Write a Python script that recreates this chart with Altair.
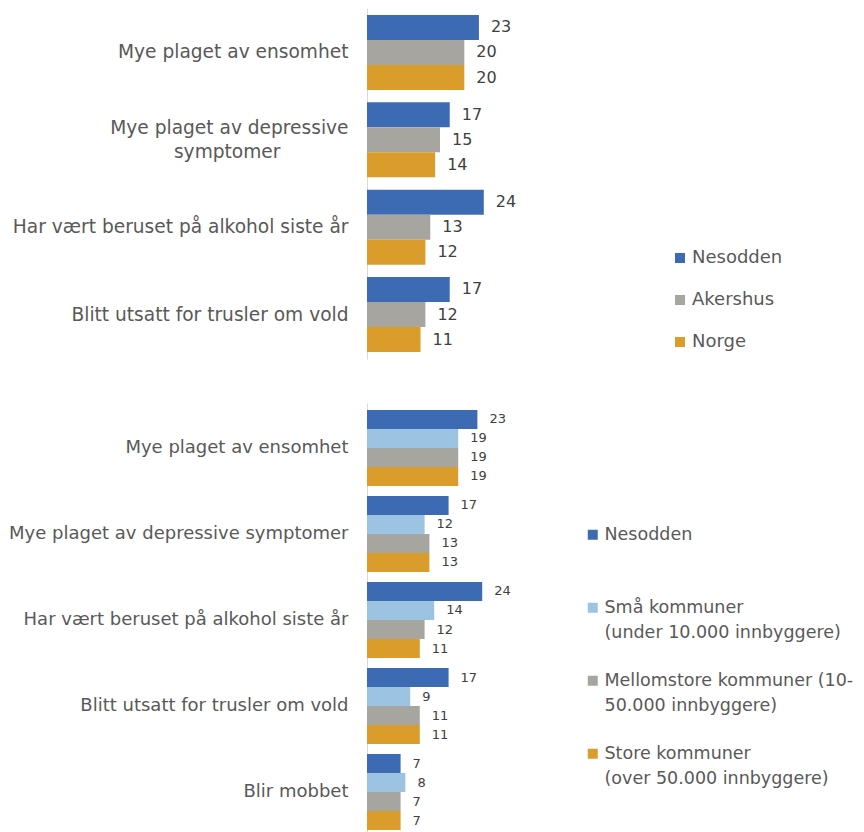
import altair as alt
import pandas as pd

# ---------- data ----------
cats_top = [
    "Mye plaget av ensomhet",
    "Mye plaget av depressive symptomer",
    "Har vært beruset på alkohol siste år",
    "Blitt utsatt for trusler om vold",
]
series_top = ["Nesodden", "Akershus", "Norge"]
nesodden_top = [23, 17, 24, 17]
akershus_top = [20, 15, 13, 12]
norge_top = [20, 14, 12, 11]
colors_top = ["#3D6BB3", "#A7A5A0", "#DA9D2B"]

cats_bot = [
    "Mye plaget av ensomhet",
    "Mye plaget av depressive symptomer",
    "Har vært beruset på alkohol siste år",
    "Blitt utsatt for trusler om vold",
    "Blir mobbet",
]
series_bot = [
    "Nesodden",
    "Små kommuner (under 10.000 innbyggere)",
    "Mellomstore kommuner (10-50.000 innbyggere)",
    "Store kommuner (over 50.000 innbyggere)",
]
legend_lines_bot = [
    ["Nesodden", ""],
    ["Små kommuner", "(under 10.000 innbyggere)"],
    ["Mellomstore kommuner (10-", "50.000 innbyggere)"],
    ["Store kommuner", "(over 50.000 innbyggere)"],
]
nesodden_bot = [23, 17, 24, 17, 7]
sma_bot = [19, 12, 14, 9, 8]
mellom_bot = [19, 13, 12, 11, 7]
store_bot = [19, 13, 11, 11, 7]
colors_bot = ["#3D6BB3", "#9DC3E3", "#A7A5A0", "#DA9D2B"]

FONT = "DejaVu Sans"
LABEL = "#595959"
VALUE = "#404040"

rows = []
for s, vals in zip(series_top, [nesodden_top, akershus_top, norge_top]):
    for c, v in zip(cats_top, vals):
        rows.append({"kategori": c, "serie": s, "verdi": v})
df_top = pd.DataFrame(rows)

rows = []
for s, vals in zip(series_bot, [nesodden_bot, sma_bot, mellom_bot, store_bot]):
    for c, v in zip(cats_bot, vals):
        rows.append({"kategori": c, "serie": s, "verdi": v})
df_bot = pd.DataFrame(rows)

# ---------- top chart ----------
PAD = "\u2800"  # blank braille cell, keeps the short line centred under the long one
dep = "Mye plaget av depressive symptomer"
top_label_expr = (
    f"datum.label == '{dep}' ? ['Mye plaget av depressive', 'symptomer{PAD * 5}'] : datum.label"
)

top_axis = alt.Axis(
    title=None, ticks=False, domainColor="#D9D9D9", domainWidth=1,
    labelFont=FONT, labelFontSize=18.6, labelColor=LABEL, labelPadding=19,
    labelLimit=400, labelExpr=top_label_expr, labelLineHeight=24,
    labelOffset={"condition": {"test": f"datum.value == '{dep}'", "value": -12}, "value": 0},
)

base_top = alt.Chart(df_top).encode(
    y=alt.Y("kategori:N", sort=cats_top, axis=top_axis,
            scale=alt.Scale(paddingInner=0.141, paddingOuter=0.08)),
    yOffset=alt.YOffset("serie:N", sort=series_top,
                        scale=alt.Scale(paddingInner=0, paddingOuter=0)),
    x=alt.X("verdi:Q", scale=alt.Scale(domain=[0, 30]), axis=None),
)
bars_top = base_top.mark_bar().encode(
    color=alt.Color(
        "serie:N", sort=series_top,
        scale=alt.Scale(domain=series_top, range=colors_top),
        legend=alt.Legend(
            title=None, orient="none", legendX=304, legendY=241,
            symbolType="square", symbolSize=100, symbolStrokeWidth=0,
            labelFont=FONT, labelFontSize=18, labelColor=LABEL,
            labelOffset=3, rowPadding=24, labelLimit=400,
        ),
    )
)
text_top = base_top.mark_text(
    align="left", baseline="middle", dx=12, fontSize=16, font=FONT, color=VALUE
).encode(text="verdi:Q")
top = (bars_top + text_top).properties(width=146, height=351)

# ---------- bottom chart ----------
bot_legend_expr = ""
for name, lines in zip(series_bot, legend_lines_bot):
    arr = "[" + ", ".join(f"'{l}'" for l in lines) + "]"
    bot_legend_expr += f"datum.label == '{name}' ? {arr} : "
bot_legend_expr += "datum.label"

bot_axis = alt.Axis(
    title=None, ticks=False, domainColor="#D9D9D9", domainWidth=1,
    labelFont=FONT, labelFontSize=18, labelColor=LABEL, labelPadding=19,
    labelLimit=400,
)
base_bot = alt.Chart(df_bot).encode(
    y=alt.Y("kategori:N", sort=cats_bot, axis=bot_axis,
            scale=alt.Scale(paddingInner=0.1163, paddingOuter=0.081)),
    yOffset=alt.YOffset("serie:N", sort=series_bot,
                        scale=alt.Scale(paddingInner=0, paddingOuter=0)),
    x=alt.X("verdi:Q", scale=alt.Scale(domain=[0, 30]), axis=None),
)
bars_bot = base_bot.mark_bar().encode(
    color=alt.Color(
        "serie:N", sort=series_bot,
        scale=alt.Scale(domain=series_bot, range=colors_bot),
        legend=alt.Legend(
            title=None, orient="none", legendX=217, legendY=123,
            symbolType="square", symbolSize=100, symbolStrokeWidth=0,
            labelFont=FONT, labelFontSize=17.5, labelColor=LABEL,
            labelOffset=3, rowPadding=29, labelLimit=400,
            labelExpr=bot_legend_expr,
        ),
    )
)
text_bot = base_bot.mark_text(
    align="left", baseline="middle", dx=12, fontSize=13, font=FONT, color=VALUE
).encode(text="verdi:Q")
bottom = (bars_bot + text_bot).properties(width=144, height=434)

chart = (
    alt.vconcat(top, bottom, spacing=44)
    .resolve_scale(color="independent", x="independent", y="independent", yOffset="independent")
    .properties(padding={"left": 0, "top": 0, "right": 0, "bottom": 0}, background="white")
    .configure(
        style={"guide-label": {"lineHeight": 25}},
        view=alt.ViewConfig(stroke=None),
    )
)

chart.save("out.html", embed_options={"renderer": "svg", "actions": False})
